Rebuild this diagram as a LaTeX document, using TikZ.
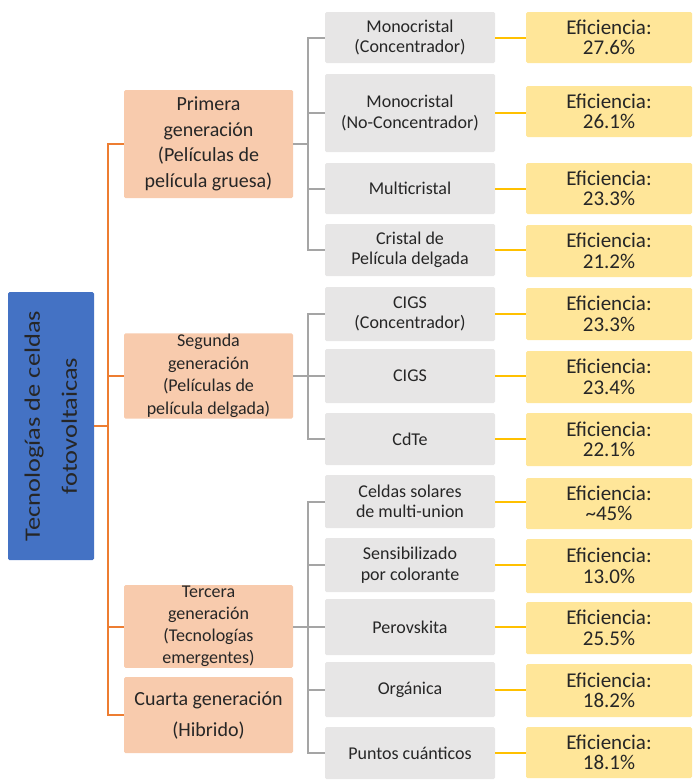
\documentclass[tikz,border=0pt]{standalone}
\usepackage{fontspec}
\setmainfont{Carlito}
\usepackage{graphicx}
\definecolor{rootblue}{HTML}{4472C4}
\definecolor{genfill}{HTML}{F8CBAD}
\definecolor{techfill}{HTML}{E7E6E6}
\definecolor{efffill}{HTML}{FFE699}
\definecolor{oline}{HTML}{ED7D31}
\definecolor{gline}{HTML}{A5A5A5}
\definecolor{yline}{HTML}{FFC000}
\definecolor{txt}{HTML}{262626}
\tikzset{
  box/.style={rectangle, rounded corners=1.5pt, inner sep=1pt, align=center, text=txt},
  rootbox/.style={box, fill=rootblue, minimum width=86pt, minimum height=268pt},
  genbox/.style={box, fill=genfill, minimum width=169pt},
  techbox/.style={box, fill=techfill, minimum width=170pt, font=\fontsize{18}{20.5}\selectfont},
  effbox/.style={box, fill=efffill, minimum width=166pt, font=\fontsize{21}{20.5}\selectfont},
  orangeline/.style={draw=oline, line width=2pt},
  greyline/.style={draw=gline, line width=2pt},
  yellowline/.style={draw=yline, line width=2pt},
}
\begin{document}
\begin{tikzpicture}[x=1pt, y=-1pt]
\useasboundingbox (0,0) rectangle (694,782);
% root
\node[rootbox] (root) at (51,426) {\rotatebox{90}{\scalebox{1.2}[1]{\fontsize{22}{37}\selectfont\begin{tabular}{@{}c@{}}Tecnologías de celdas\\fotovoltaicas\end{tabular}}}};
% generations
\node[genbox, minimum height=108pt, font=\fontsize{20}{25.5}\selectfont] (gen1) at (208.5,144) {Primera\\generación\\(Películas de\\película gruesa)};
\node[genbox, minimum height=84pt, font=\fontsize{18}{22.5}\selectfont] (gen2) at (208.5,376) {Segunda\\generación\\(Películas de\\película delgada)};
\node[genbox, minimum height=81pt, font=\fontsize{18}{22}\selectfont] (gen3) at (208.5,626.5) {Tercera\\generación\\(Tecnologías\\emergentes)};
\node[genbox, minimum height=76pt, font=\fontsize{20}{31}\selectfont] (gen4) at (208.5,715) {Cuarta generación\\(Hibrido)};
% technologies
\node[techbox, minimum height=51pt] (t1) at (410,37.5) {Monocristal\\(Concentrador)};
\node[techbox, minimum height=78pt] (t2) at (410,113) {Monocristal\\(No-Concentrador)};
\node[techbox, minimum height=51pt] (t3) at (410,188.5) {Multicristal};
\node[techbox, minimum height=52pt] (t4) at (410,250) {Cristal de\\Película delgada};
\node[techbox, minimum height=54pt] (t5) at (410,314) {CIGS\\(Concentrador)};
\node[techbox, minimum height=54pt] (t6) at (410,376) {CIGS};
\node[techbox, minimum height=52pt] (t7) at (410,439) {CdTe};
\node[techbox, minimum height=53pt] (t8) at (410,501.5) {Celdas solares\\de multi-union};
\node[techbox, minimum height=54pt] (t9) at (410,565) {Sensibilizado\\por colorante};
\node[techbox, minimum height=56pt] (t10) at (410,627) {Perovskita};
\node[techbox, minimum height=55pt] (t11) at (410,689.5) {Orgánica};
\node[techbox, minimum height=52pt] (t12) at (410,753) {Puntos cuánticos};
% efficiencies
\node[effbox, minimum height=51pt] (e1) at (609,37.5) {Eficiencia:\\27.6\%};
\node[effbox, minimum height=51pt] (e2) at (609,111.5) {Eficiencia:\\26.1\%};
\node[effbox, minimum height=51pt] (e3) at (609,188.5) {Eficiencia:\\23.3\%};
\node[effbox, minimum height=52pt] (e4) at (609,251) {Eficiencia:\\21.2\%};
\node[effbox, minimum height=52pt] (e5) at (609,314) {Eficiencia:\\23.3\%};
\node[effbox, minimum height=52pt] (e6) at (609,377) {Eficiencia:\\23.4\%};
\node[effbox, minimum height=53pt] (e7) at (609,439.5) {Eficiencia:\\22.1\%};
\node[effbox, minimum height=51pt] (e8) at (609,503.5) {Eficiencia:\\\textasciitilde45\%};
\node[effbox, minimum height=54pt] (e9) at (609,566) {Eficiencia:\\13.0\%};
\node[effbox, minimum height=52pt] (e10) at (609,628) {Eficiencia:\\25.5\%};
\node[effbox, minimum height=53pt] (e11) at (609,690.5) {Eficiencia:\\18.2\%};
\node[effbox, minimum height=51pt] (e12) at (609,752.5) {Eficiencia:\\18.1\%};
% trunk coordinates
\coordinate (otr) at (108,0);
\coordinate (gtr) at (308,0);
% orange connectors
\draw[orangeline] (gen1.west) -- (gen1.west -| otr) -- (gen4.west -| otr) -- (gen4.west);
\draw[orangeline] (root.east) -- (root.east -| otr);
\draw[orangeline] (gen2.west) -- (gen2.west -| otr);
\draw[orangeline] (gen3.west) -- (gen3.west -| otr);
% grey connectors group 1
\draw[greyline] (t1.west) -- (t1.west -| gtr) -- (t4.west -| gtr) -- (t4.west);
\draw[greyline] (t2.west) -- (t2.west -| gtr);
\draw[greyline] (t3.west) -- (t3.west -| gtr);
\draw[greyline] (gen1.east) -- (gen1.east -| gtr);
% group 2
\draw[greyline] (t5.west) -- (t5.west -| gtr) -- (t7.west -| gtr) -- (t7.west);
\draw[greyline] (t6.west) -- (t6.west -| gtr);
\draw[greyline] (gen2.east) -- (gen2.east -| gtr);
% group 3
\draw[greyline] (t8.west) -- (t8.west -| gtr) -- (t12.west -| gtr) -- (t12.west);
\draw[greyline] (t9.west) -- (t9.west -| gtr);
\draw[greyline] (t10.west) -- (t10.west -| gtr);
\draw[greyline] (t11.west) -- (t11.west -| gtr);
\draw[greyline] (gen3.east) -- (gen3.east -| gtr);
% yellow connectors
\foreach \i in {1,...,12}{
  \draw[yellowline] (t\i.east) -- (t\i.east -| e\i.west);
}
\end{tikzpicture}
\end{document}
